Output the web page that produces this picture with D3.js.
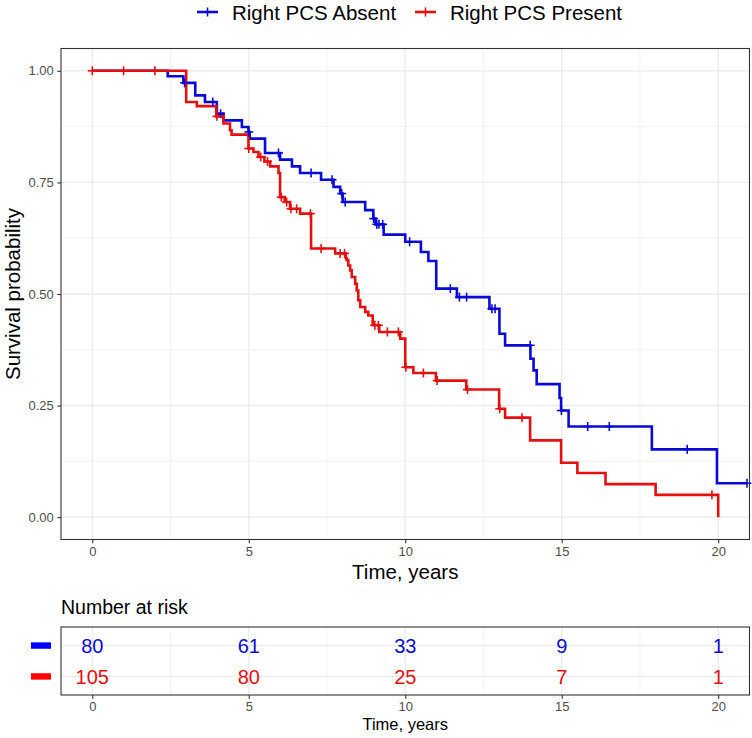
<!DOCTYPE html>
<html>
<head>
<meta charset="utf-8">
<script src="https://cdn.jsdelivr.net/npm/d3@7"></script>
<style>
  html, body { margin: 0; padding: 0; background: #fff; }
  svg { display: block; font-family: "Liberation Sans", Arial, sans-serif; }
</style>
</head>
<body>
<svg id="chart" width="752" height="738"></svg>
<script>
// ---------------- DATA ----------------
const groups = ["Right PCS Absent", "Right PCS Present"];
const groupColors = ["#0a0ad6", "#e41010"];

// Kaplan-Meier step points (time in years, survival after step)
const absentTimes = [0, 2.41, 2.91, 3.29, 3.60, 3.98, 4.19, 4.78, 4.99, 5.03, 5.52, 6.00, 6.38, 6.64, 7.31, 7.71, 7.92, 8.00, 8.72, 8.98, 9.05, 9.31, 10.0, 10.5, 10.74, 10.99, 11.65, 12.69, 13.01, 13.19, 14.0, 14.1, 14.2, 14.93, 14.98, 15.22, 17.88, 19.96, 20.92];
const absentSurv  = [1, 0.988, 0.973, 0.945, 0.930, 0.904, 0.889, 0.874, 0.863, 0.848, 0.816, 0.801, 0.786, 0.771, 0.756, 0.740, 0.725, 0.706, 0.688, 0.669, 0.656, 0.633, 0.617, 0.594, 0.574, 0.512, 0.493, 0.467, 0.411, 0.385, 0.355, 0.329, 0.298, 0.267, 0.239, 0.203, 0.152, 0.076, 0.076];
const absentCensor = [2.95, 3.85, 4.1, 5.0, 5.95, 6.99, 7.66, 7.97, 8.08, 8.99, 9.09, 9.16, 9.28, 10.14, 11.44, 11.73, 11.96, 12.77, 12.87, 13.99, 14.99, 15.83, 16.52, 19.01, 20.92];

const presentTimes = [0, 3.0, 3.34, 3.96, 4.19, 4.40, 4.45, 4.99, 5.15, 5.31, 5.5, 5.68, 5.95, 6.0, 6.15, 6.32, 6.64, 6.99, 7.76, 8.10, 8.13, 8.18, 8.24, 8.29, 8.40, 8.45, 8.50, 8.56, 8.72, 8.82, 8.96, 9.17, 9.84, 10.0, 10.26, 10.98, 11.95, 13.0, 13.19, 13.99, 14.98, 15.5, 16.4, 18.0, 20.0];
const presentSurv  = [1, 0.930, 0.921, 0.898, 0.882, 0.867, 0.857, 0.826, 0.818, 0.807, 0.797, 0.786, 0.771, 0.717, 0.706, 0.691, 0.680, 0.602, 0.591, 0.580, 0.576, 0.564, 0.553, 0.538, 0.523, 0.508, 0.486, 0.471, 0.460, 0.452, 0.430, 0.415, 0.400, 0.336, 0.323, 0.306, 0.286, 0.243, 0.223, 0.172, 0.122, 0.099, 0.074, 0.050, 0.0];
const presentCensor = [0, 1, 2, 3.98, 5.0, 5.38, 5.6, 6.04, 6.21, 6.35, 6.53, 6.97, 7.31, 7.92, 8.06, 9.03, 9.14, 9.43, 9.78, 10.02, 10.58, 11.02, 11.99, 13.02, 13.73, 19.8];

// Number at risk table
const riskTimes = [0, 5, 10, 15, 20];
const absentRisk = [80, 61, 33, 9, 1];
const presentRisk = [105, 80, 25, 7, 1];

// Axis ticks
const xTicks = [0, 5, 10, 15, 20];
const xMinor = [2.5, 7.5, 12.5, 17.5];
const yTicks = [0, 0.25, 0.5, 0.75, 1.0];
const yMinor = [0.125, 0.375, 0.625, 0.875];

// ---------------- DRAW ----------------
const svg = d3.select("#chart");
const P = { left: 61, right: 749.5, top: 48.5, bottom: 539.5 };
const x = d3.scaleLinear().domain([-1, 21]).range([P.left, P.right]);
const y = d3.scaleLinear().domain([-0.05, 1.05]).range([P.bottom, P.top]);
const gridCol = "#ebebeb", axisCol = "#333333", tickTextCol = "#4d4d4d";

// Panel background
svg.append("rect").attr("x", P.left).attr("y", P.top)
  .attr("width", P.right - P.left).attr("height", P.bottom - P.top).attr("fill", "#fff");

// gridlines
const grid = svg.append("g");
xMinor.forEach(v => grid.append("line").attr("x1", x(v)).attr("x2", x(v)).attr("y1", P.top).attr("y2", P.bottom)
  .attr("stroke", gridCol).attr("stroke-width", 0.6));
yMinor.forEach(v => grid.append("line").attr("y1", y(v)).attr("y2", y(v)).attr("x1", P.left).attr("x2", P.right)
  .attr("stroke", gridCol).attr("stroke-width", 0.6));
xTicks.forEach(v => grid.append("line").attr("x1", x(v)).attr("x2", x(v)).attr("y1", P.top).attr("y2", P.bottom)
  .attr("stroke", gridCol).attr("stroke-width", 1.3));
yTicks.forEach(v => grid.append("line").attr("y1", y(v)).attr("y2", y(v)).attr("x1", P.left).attr("x2", P.right)
  .attr("stroke", gridCol).attr("stroke-width", 1.3));

// curves
const series = [
  { times: absentTimes, surv: absentSurv, censor: absentCensor, color: groupColors[0] },
  { times: presentTimes, surv: presentSurv, censor: presentCensor, color: groupColors[1] }
];
const line = d3.line().x(d => x(d[0])).y(d => y(d[1])).curve(d3.curveStepAfter);
function survAt(s, t) {
  let v = 1;
  for (let i = 0; i < s.times.length; i++) { if (s.times[i] <= t) v = s.surv[i]; }
  return v;
}
series.forEach(s => {
  const pts = s.times.map((t, i) => [t, s.surv[i]]);
  svg.append("path").attr("d", line(pts)).attr("fill", "none")
    .attr("stroke", s.color).attr("stroke-width", 2.6).attr("stroke-linejoin", "miter");
});
series.forEach(s => {
  const g = svg.append("g").attr("stroke", s.color).attr("stroke-width", 1.6);
  s.censor.forEach(t => {
    const cx = x(t), cy = y(survAt(s, t));
    g.append("line").attr("x1", cx - 4.5).attr("x2", cx + 4.5).attr("y1", cy).attr("y2", cy);
    g.append("line").attr("x1", cx).attr("x2", cx).attr("y1", cy - 4.5).attr("y2", cy + 4.5);
  });
});

// panel border
svg.append("rect").attr("x", P.left).attr("y", P.top)
  .attr("width", P.right - P.left).attr("height", P.bottom - P.top)
  .attr("fill", "none").attr("stroke", axisCol).attr("stroke-width", 1.1);

// axes
const xAxis = svg.append("g").attr("transform", `translate(0,${P.bottom})`)
  .call(d3.axisBottom(x).tickValues(xTicks).tickSize(3.7).tickPadding(4).tickFormat(d3.format("d")));
const yAxis = svg.append("g").attr("transform", `translate(${P.left},0)`)
  .call(d3.axisLeft(y).tickValues(yTicks).tickSize(3.7).tickPadding(3.5).tickFormat(d3.format(".2f")));
[xAxis, yAxis].forEach(a => {
  a.select(".domain").remove();
  a.selectAll(".tick line").attr("stroke", axisCol).attr("stroke-width", 1.1);
  a.selectAll(".tick text").attr("fill", tickTextCol).style("font-size", "13px")
    .style("font-family", "Liberation Sans, Arial, sans-serif");
});

// axis titles
svg.append("text").attr("x", (P.left + P.right) / 2).attr("y", 579).attr("text-anchor", "middle")
  .style("font-size", "20.5px").attr("fill", "#000").text("Time, years");
svg.append("text").attr("transform", `translate(20,${(P.top + P.bottom) / 2}) rotate(-90)`)
  .attr("text-anchor", "middle").style("font-size", "20.5px").attr("fill", "#000").text("Survival probability");

// legend
const legendItems = [
  { label: groups[0], color: groupColors[0], kx: 197, tx: 232 },
  { label: groups[1], color: groupColors[1], kx: 415, tx: 450 }
];
legendItems.forEach(it => {
  const g = svg.append("g");
  g.append("line").attr("x1", it.kx).attr("x2", it.kx + 21).attr("y1", 12).attr("y2", 12)
    .attr("stroke", it.color).attr("stroke-width", 2.6);
  g.append("line").attr("x1", it.kx + 10.5).attr("x2", it.kx + 10.5).attr("y1", 7.5).attr("y2", 16.5)
    .attr("stroke", it.color).attr("stroke-width", 1.6);
  g.append("text").attr("x", it.tx).attr("y", 19.5).style("font-size", "20.5px").attr("fill", "#000").text(it.label);
});

// ---------------- RISK TABLE ----------------
svg.append("text").attr("x", 61).attr("y", 614).style("font-size", "19.5px").attr("fill", "#000").text("Number at risk");
const R = { top: 627, bottom: 695 };
const ry = d3.scaleLinear().domain([0.4, 2.6]).range([R.bottom, R.top]);
const rg = svg.append("g");
xMinor.forEach(v => rg.append("line").attr("x1", x(v)).attr("x2", x(v)).attr("y1", R.top).attr("y2", R.bottom)
  .attr("stroke", gridCol).attr("stroke-width", 0.6));
xTicks.forEach(v => rg.append("line").attr("x1", x(v)).attr("x2", x(v)).attr("y1", R.top).attr("y2", R.bottom)
  .attr("stroke", gridCol).attr("stroke-width", 1.3));
[1, 2].forEach(v => rg.append("line").attr("y1", ry(v)).attr("y2", ry(v)).attr("x1", P.left).attr("x2", P.right)
  .attr("stroke", gridCol).attr("stroke-width", 1.3));

const riskRows = [
  { values: absentRisk, row: 2, color: groupColors[0] },
  { values: presentRisk, row: 1, color: groupColors[1] }
];
riskRows.forEach(r => {
  r.values.forEach((v, i) => {
    svg.append("text").attr("x", x(riskTimes[i])).attr("y", ry(r.row)).attr("dy", "0.36em")
      .attr("text-anchor", "middle").style("font-size", "20px").attr("fill", r.color).text(v);
  });
  svg.append("rect").attr("x", 31).attr("y", ry(r.row) - 3.2).attr("width", 20).attr("height", 6.4)
    .attr("fill", r.color === groupColors[0] ? "#0000ff" : "#ff0000");
});
svg.append("rect").attr("x", P.left).attr("y", R.top).attr("width", P.right - P.left).attr("height", R.bottom - R.top)
  .attr("fill", "none").attr("stroke", axisCol).attr("stroke-width", 1.1);
const rAxis = svg.append("g").attr("transform", `translate(0,${R.bottom})`)
  .call(d3.axisBottom(x).tickValues(xTicks).tickSize(3.7).tickPadding(3).tickFormat(d3.format("d")));
rAxis.select(".domain").remove();
rAxis.selectAll(".tick line").attr("stroke", axisCol).attr("stroke-width", 1.1);
rAxis.selectAll(".tick text").attr("fill", tickTextCol).style("font-size", "13px")
  .style("font-family", "Liberation Sans, Arial, sans-serif");
svg.append("text").attr("x", (P.left + P.right) / 2).attr("y", 730).attr("text-anchor", "middle")
  .style("font-size", "16.5px").attr("fill", "#000").text("Time, years");
</script>
</body>
</html>
